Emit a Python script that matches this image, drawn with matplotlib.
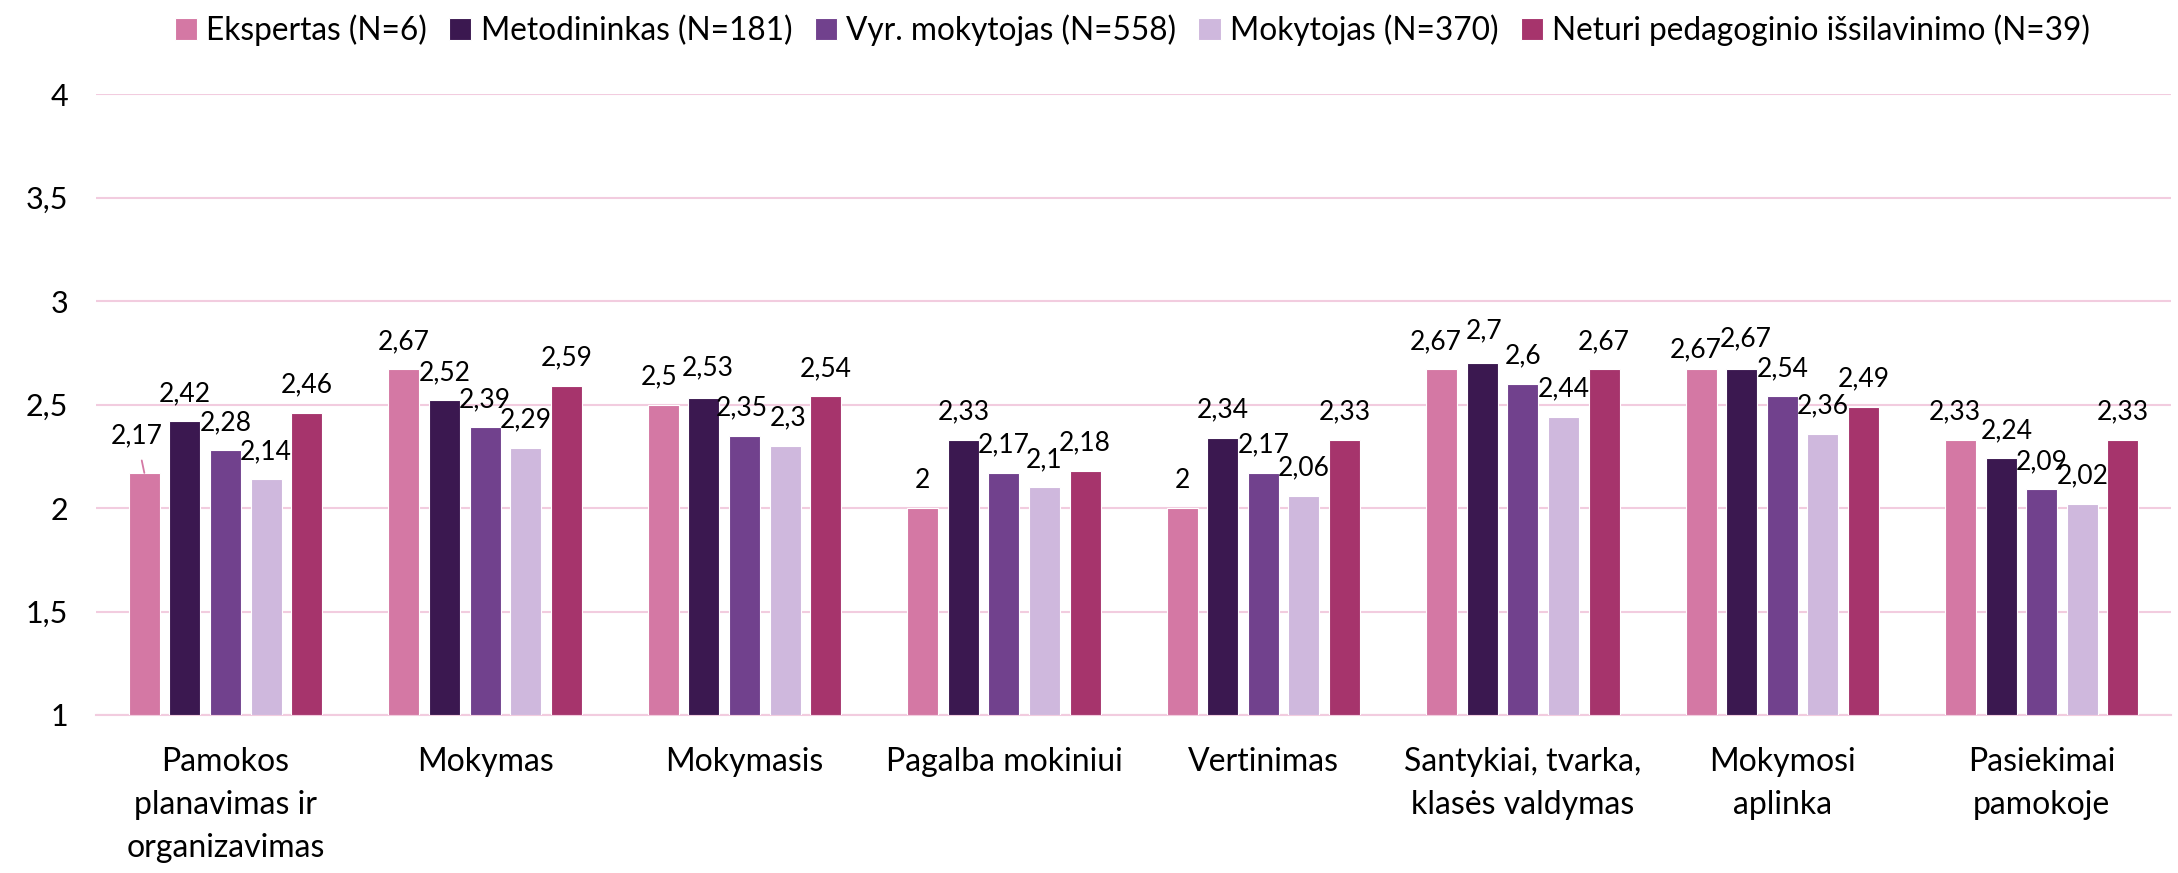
import matplotlib
matplotlib.use("Agg")
import matplotlib.pyplot as plt
import numpy as np

plt.rcParams['font.family'] = ['Lato', 'DejaVu Sans']

categories = ["Pamokos\nplanavimas ir\norganizavimas", "Mokymas", "Mokymasis",
              "Pagalba mokiniui", "Vertinimas", "Santykiai, tvarka,\nklasės valdymas",
              "Mokymosi\naplinka", "Pasiekimai\npamokoje"]

series_names = ["Ekspertas (N=6)", "Metodininkas (N=181)", "Vyr. mokytojas (N=558)",
                "Mokytojas (N=370)", "Neturi pedagoginio išsilavinimo (N=39)"]

ekspertas = [2.17, 2.67, 2.5, 2, 2, 2.67, 2.67, 2.33]
metodininkas = [2.42, 2.52, 2.53, 2.33, 2.34, 2.7, 2.67, 2.24]
vyr_mokytojas = [2.28, 2.39, 2.35, 2.17, 2.17, 2.6, 2.54, 2.09]
mokytojas = [2.14, 2.29, 2.3, 2.1, 2.06, 2.44, 2.36, 2.02]
neturi = [2.46, 2.59, 2.54, 2.18, 2.33, 2.67, 2.49, 2.33]

series = [ekspertas, metodininkas, vyr_mokytojas, mokytojas, neturi]
colors = ["#D478A4", "#3B1850", "#71418D", "#CFB8DD", "#A6346C"]

# small label nudges (series, category) -> (dx, dy) in points, like Excel's placement
nudges = {(0, 2): (-3, 0), (1, 2): (3, 2), (0, 6): (-4, -6), (1, 6): (3, 2),
          (0, 7): (-4, 0), (1, 7): (4, 0), (0, 5): (-4, 0), (1, 5): (1, 3),
          (2, 2): (-2, 0), (3, 2): (2, 0)}

def fmt(v):
    return ("%g" % v).replace(".", ",")

fig = plt.figure(figsize=(21.78, 8.73), dpi=100)
ax = fig.add_axes([0.044, 0.181, 0.953, 0.711])

x = np.arange(len(categories))
stride = 0.1565
width = 0.1195

for i, (vals, name, c) in enumerate(zip(series, series_names, colors)):
    pos = x + (i - 2) * stride
    ax.bar(pos, np.array(vals) - 1, width, bottom=1, color=c, label=name,
           edgecolor="white", linewidth=0.8, zorder=3)
    for j, (p, v) in enumerate(zip(pos, vals)):
        if i == 0 and j == 0:
            # label moved up-left with a leader line
            ax.annotate(fmt(v), xy=(p, v), xytext=(p - 0.03, v + 0.18),
                        ha="center", va="center", fontsize=19,
                        arrowprops=dict(arrowstyle="-", color=c, lw=1.3,
                                        shrinkA=7, shrinkB=0))
        else:
            dx, dy = nudges.get((i, j), (0, 0))
            ax.annotate(fmt(v), xy=(p, v), xytext=(dx, 20 + dy), textcoords="offset points",
                        ha="center", va="center", fontsize=19)

ax.set_ylim(1, 4)
ax.set_xlim(-0.5, len(categories) - 0.5)
ax.set_yticks([1, 1.5, 2, 2.5, 3, 3.5, 4])
ax.set_yticklabels(["1", "1,5", "2", "2,5", "3", "3,5", "4"], fontsize=22)
ax.set_xticks(x)
ax.set_xticklabels(categories, fontsize=23, linespacing=1.55, va="top")
ax.tick_params(axis="both", length=0)
ax.tick_params(axis="y", pad=20)
ax.tick_params(axis="x", pad=23)

ax.grid(axis="y", color="#F2CCDF", linewidth=1.5, zorder=0)
for s in ["top", "right", "left"]:
    ax.spines[s].set_visible(False)
ax.spines["bottom"].set_color("#F2CCDF")
ax.spines["bottom"].set_linewidth(1.5)

fig.legend(loc="center", bbox_to_anchor=(0.52, 0.965), ncol=5, frameon=False,
           fontsize=22.8, handlelength=0.7, handleheight=0.7, handletextpad=0.3,
           columnspacing=0.7)

fig.savefig("out.png", dpi=100)
